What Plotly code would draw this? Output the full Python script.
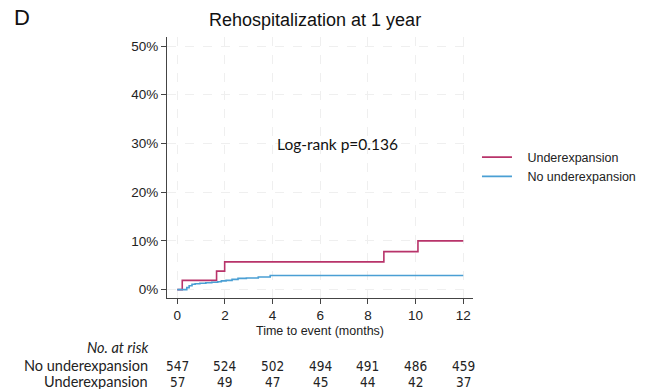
import plotly.graph_objects as go

# Cumulative incidence of rehospitalization (%), step functions
under_t = [0, 0.21, 1.65, 1.99, 8.67, 10.1, 12]
under_v = [0, 1.9, 3.8, 5.7, 7.8, 10.0, 10.0]

nounder_t = [0, 0.40, 0.50, 0.62, 0.75, 0.95, 1.2, 1.45, 1.7, 1.85, 2.05, 2.3, 2.55, 2.9, 3.4, 3.9, 12]
nounder_v = [0, 0.4, 0.8, 1.1, 1.2, 1.3, 1.4, 1.5, 1.6, 1.8, 1.9, 2.1, 2.3, 2.4, 2.6, 2.9, 2.9]

# Numbers at risk
risk_times = [0, 2, 4, 6, 8, 10, 12]
risk_nounder = [547, 524, 502, 494, 491, 486, 459]
risk_under = [57, 49, 47, 45, 44, 42, 37]

x_ticks = [0, 2, 4, 6, 8, 10, 12]
y_ticks = [0, 10, 20, 30, 40, 50]
y_labels = [f"{v}%" for v in y_ticks]

RED = "#b8336a"
BLUE = "#4a9fd4"
FONT = "Liberation Sans, Arial, sans-serif"
TABLE_FONT = "Lato, sans-serif"
NUM_FONT = "Liberation Sans Narrow, DejaVu Sans Condensed, sans-serif"
PAD = "\u00a0\u00a0\u00a0"  # gap between legend line and its label

fig = go.Figure()
fig.add_trace(go.Scatter(
    x=under_t, y=under_v, mode="lines", line=dict(color=RED, width=1.6, shape="hv"),
    name=PAD + "Underexpansion"))
fig.add_trace(go.Scatter(
    x=nounder_t, y=nounder_v, mode="lines", line=dict(color=BLUE, width=1.6, shape="hv"),
    name=PAD + "No underexpansion"))

grid = dict(showgrid=True, gridcolor="#efefef", griddash="dash", gridwidth=1)

fig.update_layout(
    width=648, height=389,
    margin=dict(l=167, r=175, t=37, b=91, autoexpand=False),
    paper_bgcolor="white", plot_bgcolor="white",
    font=dict(family=FONT, size=12, color="#222"),
    showlegend=True,
    legend=dict(x=1.013, y=0.502, xanchor="left", yanchor="middle",
                font=dict(size=12.5, color="#222"), bgcolor="rgba(0,0,0,0)",
                tracegroupgap=0, itemwidth=30),
    xaxis=dict(range=[-0.43, 12.41], tickvals=x_ticks, ticks="outside", ticklen=5,
               tickcolor="#444", showline=True, linecolor="#444", linewidth=1,
               zeroline=False, tickfont=dict(size=13.5),
               title=dict(text="Time to event (months)", font=dict(size=12.5), standoff=4),
               **grid),
    yaxis=dict(range=[-1.72, 51.85], tickvals=y_ticks, ticktext=y_labels, ticks="outside",
               ticklen=5, tickcolor="#444", showline=True, linecolor="#444", linewidth=1,
               zeroline=False, tickfont=dict(size=13.5), **grid),
)

# Panel letter and title
fig.add_annotation(text="D", xref="paper", yref="paper", x=(12 - 167) / 306, y=1 + 20/261,
                   xanchor="left", yanchor="middle", showarrow=False,
                   font=dict(size=22, color="#111"))
fig.add_annotation(text="Rehospitalization at 1 year", xref="paper", yref="paper",
                   x=(315 - 167) / 306, y=1 + 17/261, xanchor="center", yanchor="middle",
                   showarrow=False, font=dict(size=18, color="#111"))

# Log-rank annotation
fig.add_annotation(text="Log-rank p=0.136", xref="x", yref="y", x=6.72, y=29.8,
                   xanchor="center", yanchor="middle", showarrow=False,
                   font=dict(size=15.5, color="#111", family=TABLE_FONT))

# Risk table
x_lab = (150 - 167) / 306
def py(p):
    return (389 - 91 - p) / 261

fig.add_annotation(text="<i>No. at risk</i>", xref="paper", yref="paper", x=x_lab, y=py(347),
                   xanchor="right", yanchor="middle", showarrow=False,
                   font=dict(size=14.5, family=TABLE_FONT))
fig.add_annotation(text="No underexpansion", xref="paper", yref="paper", x=x_lab, y=py(365.5),
                   xanchor="right", yanchor="middle", showarrow=False,
                   font=dict(size=14.5, family=TABLE_FONT))
fig.add_annotation(text="Underexpansion", xref="paper", yref="paper", x=x_lab, y=py(381.5),
                   xanchor="right", yanchor="middle", showarrow=False,
                   font=dict(size=14.5, family=TABLE_FONT))
for t, a, b in zip(risk_times, risk_nounder, risk_under):
    fig.add_annotation(text=str(a), xref="x", yref="paper", x=t, y=py(366),
                       xanchor="center", yanchor="middle", showarrow=False,
                       font=dict(size=13.5, family=NUM_FONT))
    fig.add_annotation(text=str(b), xref="x", yref="paper", x=t, y=py(381.5),
                       xanchor="center", yanchor="middle", showarrow=False,
                       font=dict(size=13.5, family=NUM_FONT))

fig.write_html("out.html")
